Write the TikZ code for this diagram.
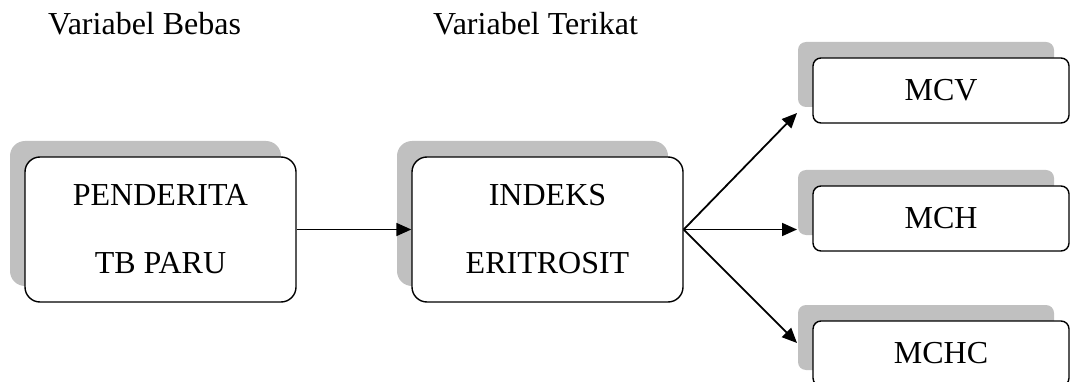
\documentclass[tikz,border=0pt]{standalone}
\usepackage{fontspec}
\setmainfont{Liberation Serif}
\usetikzlibrary{arrows.meta,shadows}

\definecolor{shadowgray}{RGB}{192,192,192}

\begin{document}
\begin{tikzpicture}[x=1pt,y=-1pt,
    box/.style={draw, line width=1.4pt, fill=white, rounded corners=15pt,
        minimum width=271pt, minimum height=145pt, align=center,
        font=\fontsize{32}{68}\selectfont,
        general shadow={fill=shadowgray, shadow xshift=-15pt, shadow yshift=16pt}},
    smallbox/.style={box, rounded corners=8pt, minimum width=256pt, minimum height=65pt},
    arr/.style={line width=1.8pt, -{Triangle[length=15pt,width=13pt]}},
    heading/.style={anchor=base west, inner sep=0pt, font=\fontsize{32}{38}\selectfont}]

\useasboundingbox (0,0) rectangle (1070,382);

% ---- Headings ----
\node[heading] (bebas) at (48,35) {Variabel Bebas};
\node[heading] (terikat) at (433,35) {Variabel Terikat};

% ---- Boxes ----
\node[box] (penderita) at (160.5,229.5) {PENDERITA\\TB PARU};
\node[box] (indeks) at (547.5,229.5) {INDEKS\\ERITROSIT};
\node[smallbox] (mcv) at (941,90.5) {MCV};
\node[smallbox] (mch) at (941,218.5) {MCH};
\node[smallbox] (mchc) at (941,353.5) {MCHC};

% ---- Arrow ends (on the shadows) ----
\coordinate (tipV) at (797,113);
\coordinate (tipH) at (797,229.5);
\coordinate (tipC) at (797,343);

% ---- Arrows ----
\draw[arr] (penderita.east) -- (indeks.west);
\draw[arr] (indeks.east) -- (tipV);
\draw[arr] (indeks.east) -- (tipH);
\draw[arr] (indeks.east) -- (tipC);

\end{tikzpicture}
\end{document}
